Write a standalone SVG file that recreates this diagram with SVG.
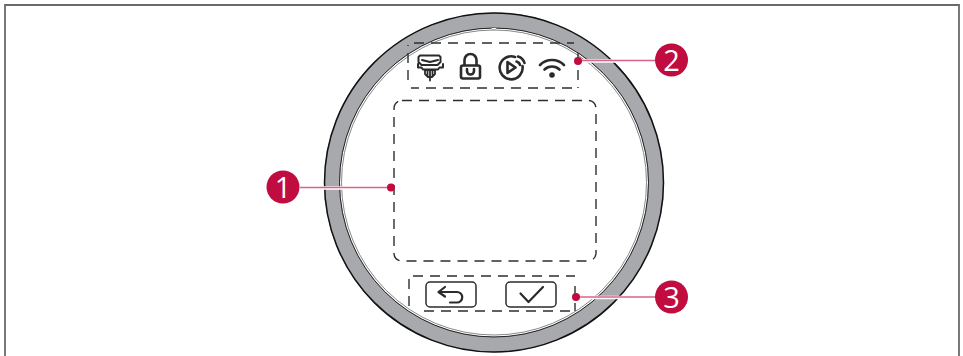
<svg xmlns="http://www.w3.org/2000/svg" width="963" height="356" viewBox="0 0 963 356">
<style>
.dash{fill:none;stroke:#2e2e2e;stroke-width:1.4;stroke-dasharray:10 7}
.icon{fill:none;stroke:#2b2b2b;stroke-width:2.600;stroke-linecap:round;stroke-linejoin:round}
.thin{stroke-width:1.500}
.halo{stroke:#fff;stroke-width:3.5;fill:none}
.lead{stroke:#d9638a;stroke-width:1.6;fill:none}
.dot{fill:#c00c3f}
.num{font-family:"Open Sans","Liberation Sans",Arial,sans-serif;font-weight:400;font-size:29px;fill:#fff;text-anchor:middle}
.rim{fill:none;stroke:#111;stroke-width:1.5}
</style>
<rect x="0" y="0" width="963" height="356" fill="#fff"/>
<path d="M5 356V5H959V356" fill="none" stroke="#6a6a6a" stroke-width="1.800"/>
<g id="bezel">
<circle cx="494" cy="182.500" r="162" fill="none" stroke="#a7a9ac" stroke-width="16"/>
<circle class="rim" cx="494" cy="182.500" r="169.500"/>
<circle cx="494" cy="182.500" r="154.500" fill="none" stroke="#222" stroke-width="1"/>
<circle cx="494" cy="182.500" r="152.500" fill="none" stroke="#555" stroke-width="0.700"/>
<path d="M491 28q3 4 6 0" fill="#fff" stroke="#777" stroke-width="0.700"/>
</g>
<g id="display"><rect class="dash" x="394" y="100.500" width="202" height="160.500" rx="8"/></g>
<g id="status-icons">
<path class="dash" d="M414 43H574M578 53V88M572 88H411M408 80V45"/>
<g id="icon-filter" class="icon"><path d="M420 55.500h19l1.500 1.500v5l-3 3h-16l-3-3v-5zM422 60l8 2 8-2M418 64v3.500h3.500l1.500 2h15l1.500-2h3.500v-3.500" stroke-width="2"/><path d="M425 70h10v4l-3 3h-4l-3-3zM430 70v10.500M427.500 70v6M432.500 70v6" stroke-width="1.800"/></g>
<g id="icon-lock" class="icon"><rect x="461" y="65.500" width="19" height="13" rx="2"/><path d="M464.500 65v-5a6 6 0 0 1 12 0v5M467 69v2a3.500 3.500 0 0 0 7 0v-2"/></g>
<g id="icon-play" class="icon"><path d="M515 57a11.500 11.500 0 1 0 7.500 9"/><path d="M507.500 62l8 5.500-8 5.500z"/><path d="M516.500 61.500a5 5 0 0 1 3.500 3.500M518 56.500a9.500 9.500 0 0 1 6.500 6.500"/></g>
<g id="icon-wifi" class="icon"><path d="M540 65a17 17 0 0 1 24 0M544.500 69.500a11 11 0 0 1 15 0"/><circle cx="552" cy="75" r="1.500" fill="#2b2b2b"/></g>
</g>
<g id="buttons">
<path class="dash" d="M409 306V276H575M575 286V311M570 311H418"/>
<g id="btn-back" class="icon"><rect class="thin" x="426" y="282" width="50" height="25" rx="4"/><path d="M438.500 292H457a5 5 0 0 1 0 10.500h-7M445 287l-6.500 5 6.500 4.500" stroke-width="2.200"/></g>
<g id="btn-ok" class="icon"><rect class="thin" x="506" y="282" width="50" height="25" rx="4"/><path d="M520.500 293.500l8 8.500 14.500-15" stroke-width="2.200"/></g>
</g>
<g id="connectors">
<path class="halo" d="M300 188H391"/>
<path class="halo" d="M578 61H658"/>
<path class="halo" d="M576 297.500H658"/>
<path class="lead" d="M300 187.500H391"/>
<path class="lead" d="M578 60.500H658"/>
<path class="lead" d="M576 297H658"/>
<circle class="dot" cx="391" cy="187.500" r="4"/>
<circle class="dot" cx="578" cy="61" r="4"/>
<circle class="dot" cx="576" cy="297" r="4"/>
</g>
<g id="callout-1"><circle class="dot" cx="283" cy="187" r="16.500"/><text class="num" x="283" y="197.500">1</text></g>
<g id="callout-2"><circle class="dot" cx="671.500" cy="60" r="16.500"/><text class="num" x="671.500" y="70.500">2</text></g>
<g id="callout-3"><circle class="dot" cx="671.500" cy="297" r="16.500"/><text class="num" x="671.500" y="307.500">3</text></g>
</svg>
